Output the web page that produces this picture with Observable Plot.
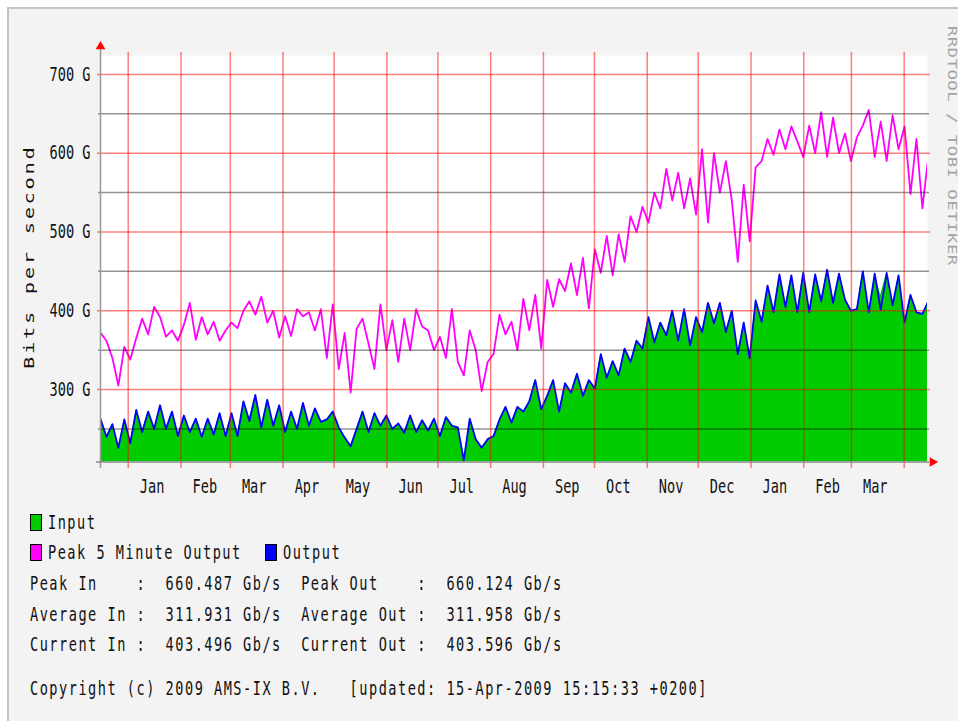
<!DOCTYPE html>
<html><head><meta charset="utf-8">
<script src="https://cdn.jsdelivr.net/npm/d3@7"></script>
<script src="https://cdn.jsdelivr.net/npm/@observablehq/plot@0.6"></script>
<style>
html,body{margin:0;padding:0;background:#fff;}
#page{position:relative;width:958px;height:721px;overflow:hidden;}
#panel{position:absolute;left:7px;top:7px;width:960px;height:720px;background:#f3f3f3;border-top:2px solid #c4c4c4;border-left:2px solid #c4c4c4;}
#chart{position:absolute;left:0;top:0;}
.lg{position:absolute;font-family:"DejaVu Sans Mono",monospace;font-size:13.6px;letter-spacing:1.5px;white-space:pre;color:#111;line-height:20px;height:20px;transform:scaleY(1.4);transform-origin:0 50%;}
.sw{position:absolute;width:10px;height:15px;border:1px solid #000;}
</style></head>
<body><div id="page"><div id="panel"></div><div id="chart"></div><div id="legend"></div></div>
<script>
// ---- data, one sample every 3.5 days from 15 Dec 2007 17:00 UTC ----
const startDate = Date.UTC(2007, 11, 15, 17);
const stepDays = 3.5;
const inputVals = [263,240,256,226,262,232,274,246,272,250,
 280,250,272,241,267,246,263,240,263,243,
 270,241,270,241,285,263,293,252,287,254,
 280,246,272,250,283,254,276,259,262,272,
 252,239,228,250,272,246,270,254,267,250,
 257,245,267,246,261,248,263,241,265,254,
 252,210,263,237,226,237,241,262,278,258,
 278,272,285,312,275,292,312,272,308,296,
 320,292,312,301,345,315,336,318,352,335,
 362,352,392,360,385,369,402,362,402,356,
 392,373,410,384,410,373,400,345,385,340,
 413,386,432,398,446,405,445,398,450,398,
 446,412,452,410,447,414,400,402,450,398,
 447,420,448,407,445,385,420,398,396,412];
const outputVals = [263,240,256,226,262,232,274,246,272,250,
 280,250,272,241,267,246,263,240,263,243,
 270,241,270,241,285,260,293,252,287,254,
 280,246,272,250,283,254,276,259,262,272,
 252,239,228,250,272,246,270,254,267,250,
 257,245,267,246,261,248,263,241,265,254,
 252,210,263,237,226,237,241,262,278,258,
 278,272,285,312,275,292,312,272,308,296,
 320,292,312,301,345,315,336,318,352,335,
 362,352,392,360,385,369,400,362,402,356,
 392,373,410,384,410,373,400,345,385,340,
 413,386,432,398,446,405,445,398,448,398,
 446,412,452,410,447,414,400,402,450,398,
 447,401,448,407,445,385,420,398,396,412];
const peakOutVals = [372,362,340,305,354,338,365,390,370,405,
 392,367,375,362,382,410,363,392,370,386,
 362,375,385,378,400,412,395,418,385,400,
 366,393,368,402,393,398,375,402,340,408,
 326,372,296,377,390,358,326,408,350,388,
 335,390,350,402,380,375,350,367,340,402,
 335,318,375,350,298,335,345,395,370,386,
 350,415,375,420,352,439,405,440,425,460,
 420,467,403,478,448,495,445,497,462,520,
 500,532,512,550,530,580,540,575,530,568,
 522,605,512,600,550,590,540,462,560,488,
 582,590,618,598,630,605,634,615,595,635,
 600,652,595,645,600,625,590,620,635,655,
 595,640,590,648,605,634,548,618,530,596];
const monthStarts = ["2008-01-01","2008-02-01","2008-03-01","2008-04-01","2008-05-01","2008-06-01","2008-07-01","2008-08-01","2008-09-01","2008-10-01","2008-11-01","2008-12-01","2009-01-01","2009-02-01","2009-03-01","2009-04-01"];
const monthLabelDates = ["2008-01-15","2008-02-15","2008-03-15","2008-04-15","2008-05-15","2008-06-15","2008-07-15","2008-08-15","2008-09-15","2008-10-15","2008-11-15","2008-12-15","2009-01-15","2009-02-15","2009-03-15"];
const monthNames = ["Jan","Feb","Mar","Apr","May","Jun","Jul","Aug","Sep","Oct","Nov","Dec","Jan","Feb","Mar"];
const majorTicks = [300,400,500,600,700];
const minorTicks = [250,350,450,550,650];
const statNames = [["Peak In    ","Peak Out    "],["Average In ","Average Out "],["Current In ","Current Out "]];
const statIn = ["660.487","311.931","403.496"];
const statOut = ["660.124","311.958","403.596"];

const X0 = new Date(startDate), X1 = new Date(Date.UTC(2009, 3, 14, 17));
const Y0 = 208, Y1 = 724;
const rows = inputVals.map((v, i) => ({date: new Date(startDate + i * stepDays * 864e5), input: v, output: outputVals[i], peak: peakOutVals[i]}));
const mono = "DejaVu Sans Mono";

const svg = Plot.plot({
  width: 958, height: 500,
  marginLeft: 100, marginRight: 31, marginTop: 55, marginBottom: 38.5,
  style: {background: "transparent", overflow: "visible"},
  x: {type: "utc", domain: [X0, X1], axis: null},
  y: {domain: [Y0, Y1], axis: null},
  marks: [
    Plot.frame({fill: "#fff", stroke: null}),
    Plot.areaY(rows, {x: "date", y1: Y0, y2: "input", fill: "#00cc00", clip: true}),
    Plot.lineY(rows, {x: "date", y: "output", stroke: "#0000ff", strokeWidth: 1.8, clip: true}),
    Plot.lineY(rows, {x: "date", y: "peak", stroke: "#ff00ff", strokeWidth: 1.8, clip: true}),
    Plot.ruleY(minorTicks, {stroke: "#000", strokeOpacity: 0.42, strokeWidth: 1.5, insetLeft: -2, insetRight: -2}),
    Plot.ruleY(majorTicks, {stroke: "#ff0000", strokeOpacity: 0.5, strokeWidth: 1.5, insetLeft: -3, insetRight: -3}),
    Plot.ruleX(monthStarts.map(d => new Date(d)), {stroke: "#ff0000", strokeOpacity: 0.5, strokeWidth: 1.5, insetTop: -3, insetBottom: -6.5}),
    Plot.ruleX([X0], {stroke: "#999", strokeWidth: 1.5, insetTop: -6, insetBottom: -6.5}),
    Plot.ruleY([Y0], {stroke: "#888", strokeWidth: 1.5, insetLeft: -4, insetRight: -2}),
    Plot.dot([X0], {x: d => d, y: Y1, dy: -9, symbol: "triangle", r: 3.6, fill: "#ff0000", stroke: null}),
    Plot.dot([X1], {x: d => d, y: Y0, dx: 5, symbol: "triangle", rotate: 90, r: 3.6, fill: "#ff0000", stroke: null}),
    Plot.text(majorTicks, {frameAnchor: "left", y: d => d, text: d => `${d} G`, textAnchor: "end", dx: -10, fontFamily: mono, fontSize: 13.6, fill: "#111", ariaLabel: () => "ytick"}),
    Plot.text(monthLabelDates.map(d => new Date(d)), {x: d => d, frameAnchor: "bottom", text: (d, i) => monthNames[i], dy: 30.5, fontFamily: mono, fontSize: 13.6, fill: "#111", ariaLabel: () => "xtick"}),
    Plot.text(["Bits per second"], {frameAnchor: "left", textAnchor: "middle", dx: -71, dy: -2, rotate: -90, fontFamily: mono, fontSize: 14.6, fill: "#111", ariaLabel: () => "ytitle"}),
    Plot.text(["RRDTOOL / TOBI OETIKER"], {frameAnchor: "right", textAnchor: "middle", dx: 24, dy: -113, rotate: 90, fontFamily: mono, fontSize: 12, fill: "#a3a3a3", ariaLabel: () => "watermark"})
  ]
});
document.getElementById("chart").appendChild(svg);

function stretch(label, sy, spacing) {
  svg.querySelectorAll(`text[aria-label="${label}"], g[aria-label="${label}"] text`).forEach(t => {
    let tr = t.getAttribute("transform") || "";
    if (!tr) {
      const x = parseFloat(t.getAttribute("x")) || 0;
      const yA = t.getAttribute("y") || "";
      if (!/em$/.test(yA)) { const y = parseFloat(yA) || 0; t.removeAttribute("y"); tr = `translate(${x},${y})`; }
      else tr = `translate(${x},0)`;
      t.removeAttribute("x");
    }
    if (/rotate\(/.test(tr)) tr = tr.replace(/rotate\(/, `scale(1,${sy}) rotate(`);
    else tr = tr + ` scale(1,${sy})`;
    t.setAttribute("transform", tr);
    if (spacing) t.style.letterSpacing = spacing + "px";
  });
}
stretch("ytick", 1.4, 0);
stretch("xtick", 1.4, 0);
stretch("ytitle", 1.4, 1.9);
stretch("watermark", 1.45, 0.3);

// ---- legend below the chart ----
const legend = document.getElementById("legend");
function addText(txt, left, cy) {
  const d = document.createElement("div");
  d.className = "lg"; d.textContent = txt;
  d.style.left = left + "px"; d.style.top = (cy - 10) + "px";
  legend.appendChild(d);
}
function addSwatch(color, left, cy) {
  const d = document.createElement("div");
  d.className = "sw"; d.style.background = color;
  d.style.left = left + "px"; d.style.top = (cy - 8.5) + "px";
  legend.appendChild(d);
}
addSwatch("#00cc00", 30, 522); addText("Input", 48, 522);
addSwatch("#ff00ff", 30, 552); addText("Peak 5 Minute Output", 48, 552);
addSwatch("#0000ff", 265, 552); addText("Output", 283, 552);
const statY = [583, 614, 644];
statNames.forEach((n, i) => addText(`${n[0]}:  ${statIn[i]} Gb/s  ${n[1]}:  ${statOut[i]} Gb/s`, 30, statY[i]));
addText("Copyright (c) 2009 AMS-IX B.V.   [updated: 15-Apr-2009 15:15:33 +0200]", 30, 688);
</script>
</body></html>
